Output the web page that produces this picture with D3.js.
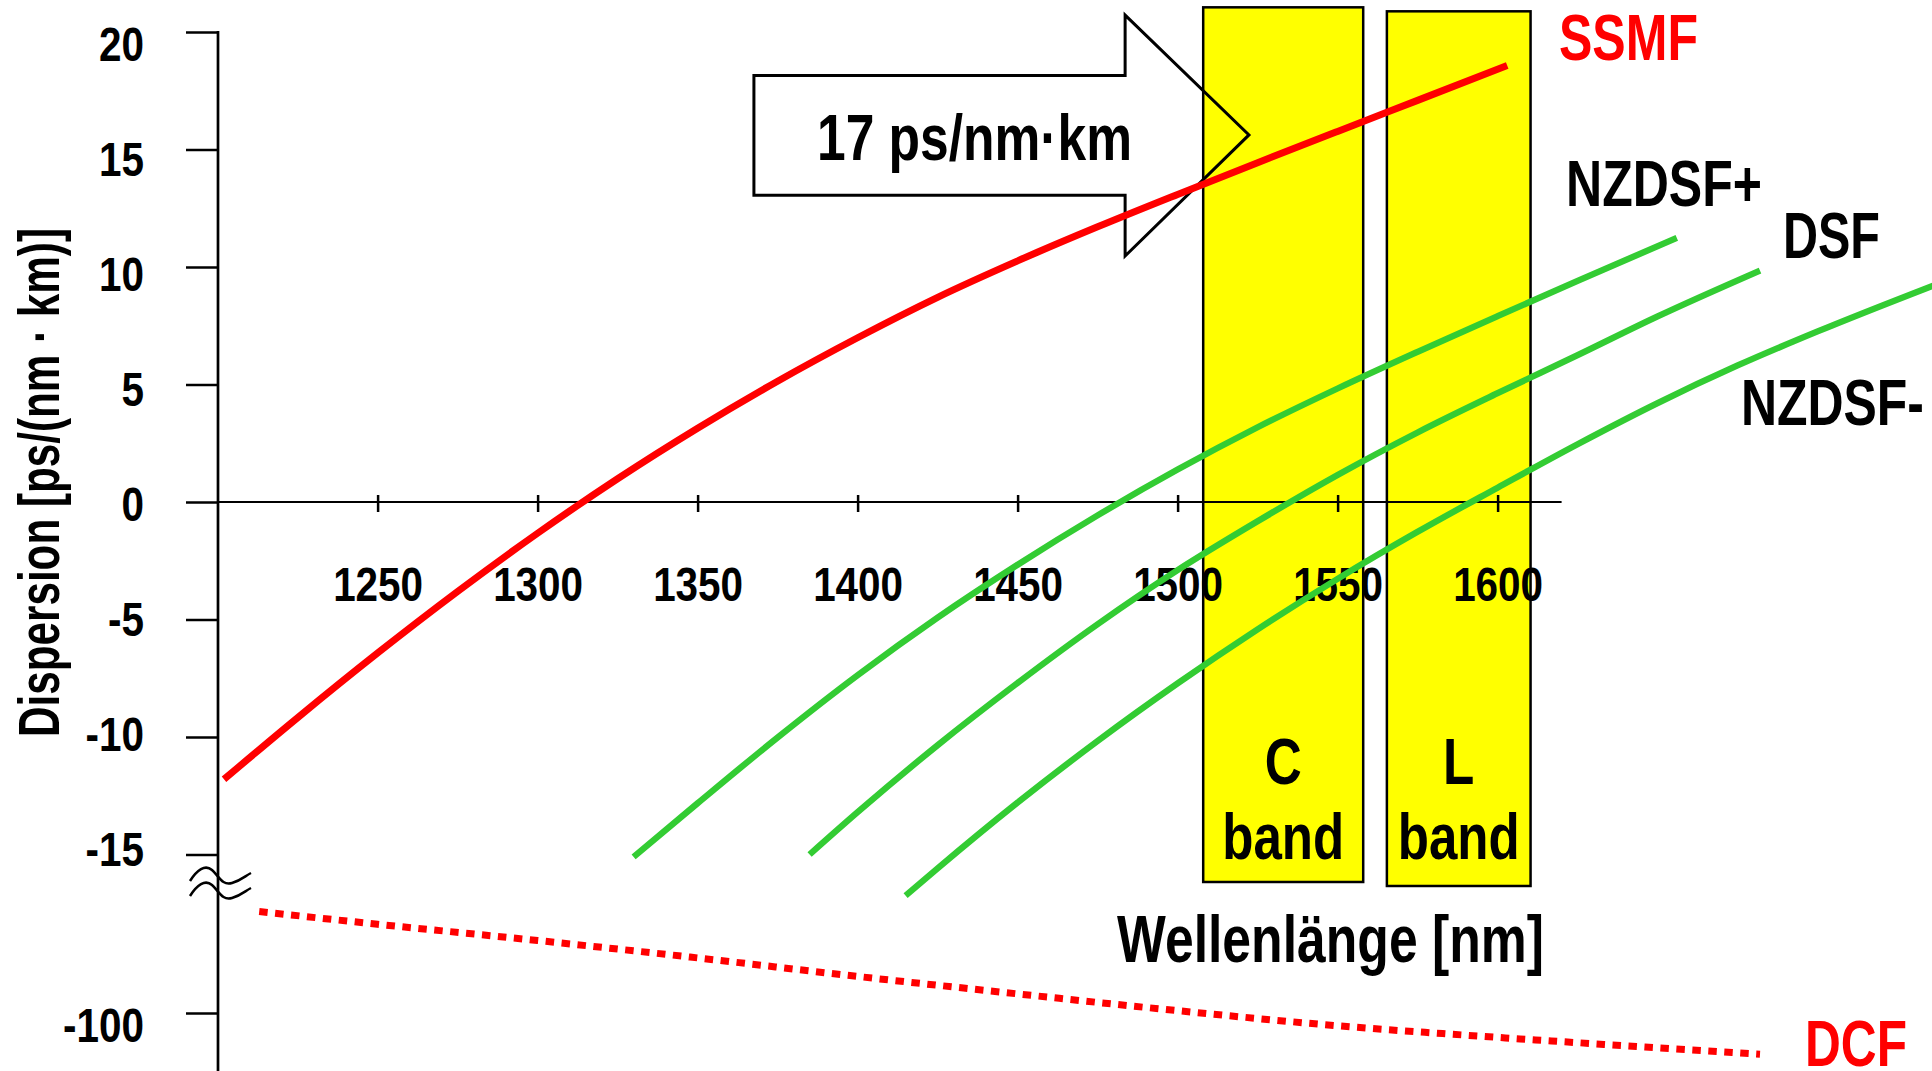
<!DOCTYPE html>
<html>
<head>
<meta charset="utf-8">
<script src="https://cdn.jsdelivr.net/npm/d3@7"></script>
<style>
  html, body { margin: 0; padding: 0; background: #fff; overflow: hidden; }
  svg { display: block; }
  text {
    font-family: "Liberation Sans", Arial, "DejaVu Sans", sans-serif;
    font-weight: bold;
  }
</style>
</head>
<body>
<svg id="chart" width="1932" height="1071"></svg>
<script>
// Axis tick values
const wavelengthTicks = [1250, 1300, 1350, 1400, 1450, 1500, 1550, 1600];
const dispersionTicks = [20, 15, 10, 5, 0, -5, -10, -15];
const dcfTicks = [-100];

// Standard single-mode fibre
const ssmfWavelength = [1202, 1225, 1250, 1275, 1300, 1325, 1350, 1375, 1400, 1425, 1450, 1475, 1500, 1525, 1550, 1575, 1603];
const ssmfDispersion = [-11.8, -9.18, -6.43, -3.81, -1.33, 0.99, 3.14, 5.14, 6.99, 8.71, 10.26, 11.71, 13.09, 14.44, 15.77, 17.09, 18.57];

// Non-zero dispersion-shifted fibre, positive
const nzdsfPlusWavelength = [1330, 1350, 1375, 1400, 1425, 1450, 1475, 1500, 1525, 1550, 1575, 1600, 1625, 1656];
const nzdsfPlusDispersion = [-15.1, -12.82, -10.02, -7.37, -4.92, -2.67, -0.57, 1.38, 3.18, 4.83, 6.39, 7.91, 9.41, 11.24];

// Dispersion-shifted fibre
const dsfWavelength = [1385, 1400, 1425, 1450, 1475, 1500, 1525, 1550, 1575, 1600, 1625, 1650, 1682];
const dsfDispersion = [-15.0, -13.2, -10.35, -7.7, -5.2, -2.9, -0.82, 1.15, 2.96, 4.63, 6.25, 7.9, 9.85];

// Non-zero dispersion-shifted fibre, negative
const nzdsfMinusWavelength = [1415, 1425, 1450, 1475, 1500, 1525, 1550, 1575, 1600, 1625, 1650, 1675, 1700, 1738];
const nzdsfMinusDispersion = [-16.75, -15.59, -12.79, -10.17, -7.72, -5.42, -3.27, -1.27, 0.61, 2.46, 4.21, 5.81, 7.26, 9.31];

// Dispersion-compensating fibre (lower, broken part of the axis)
const dcfWavelength = [1213, 1250, 1300, 1350, 1400, 1450, 1500, 1550, 1600, 1650, 1682];
const dcfDispersion = [-82.5, -84.7, -87.5, -90.5, -93.7, -96.7, -99.6, -102.2, -104.2, -106.0, -107.1];

// Transmission bands
const bandNames = ["C", "L"];
const bandStart = [1508, 1565.4];
const bandEnd = [1558, 1610.3];
const bandUpper = [21.05, 20.88];
const bandLower = [-16.17, -16.34];

const svg = d3.select("#chart");

const x = d3.scaleLinear().domain([1200, 1600]).range([217.6, 1497.6]);
const y = d3.scaleLinear().domain([-15, 20]).range([854.5, 32]);
const yLow = d3.scaleLinear().domain([-120, -80]).range([1129, 897]);
// tick labels sit on a slightly tighter spacing than the tick marks
const yLabel = d3.scaleLinear().domain([-15, 20]).range([848.5, 43.5]);

const zip = (a, b) => a.map((v, i) => [v, b[i]]);

// Condensed bold text: a regular bold face squeezed horizontally.
// With a target width the squeeze is computed from the measured text.
function label(parent, str, px, py, size, opts = {}) {
  const g = parent.append("g").attr("transform", `translate(${px},${py})`);
  const t = g.append("text")
    .attr("font-size", size)
    .attr("text-anchor", opts.anchor || "start")
    .attr("fill", opts.fill || "#000")
    .text(str);
  let sx = opts.squeeze || 0.78;
  if (opts.width) sx = opts.width / t.node().getComputedTextLength();
  t.attr("transform", `${opts.rotate ? `rotate(${opts.rotate}) ` : ""}scale(${sx},1)`);
  return g;
}

// ---- bands ----
const gBands = svg.append("g");
bandNames.forEach((name, i) => {
  gBands.append("rect")
    .attr("x", x(bandStart[i]))
    .attr("y", y(bandUpper[i]))
    .attr("width", x(bandEnd[i]) - x(bandStart[i]))
    .attr("height", y(bandLower[i]) - y(bandUpper[i]))
    .attr("fill", "#ffff00")
    .attr("stroke", "#000")
    .attr("stroke-width", 2.5);
});

// ---- 17 ps/nm·km arrow ----
const ax0 = x(1367.6), axHead = x(1483.6), axTip = x(1522.3);
const ayTop = y(18.15), ayBot = y(13.05), ayHeadTop = y(20.72), ayHeadBot = y(10.47), ayTip = y(15.62);
svg.append("path")
  .attr("d", `M${ax0},${ayTop} L${axHead},${ayTop} L${axHead},${ayHeadTop} L${axTip},${ayTip} L${axHead},${ayHeadBot} L${axHead},${ayBot} L${ax0},${ayBot} Z`)
  .attr("fill", "none")
  .attr("stroke", "#000")
  .attr("stroke-width", 3)
  .attr("stroke-linejoin", "miter");
label(svg, "17 ps/nm·km", 817, 160, 65, { width: 315 });

// ---- axes ----
const axisX = 218;
svg.append("line")
  .attr("x1", axisX).attr("x2", axisX)
  .attr("y1", y(20) - 1).attr("y2", 1071)
  .attr("stroke", "#000").attr("stroke-width", 2.7);
svg.append("line")
  .attr("x1", axisX).attr("x2", x(1620))
  .attr("y1", y(0)).attr("y2", y(0))
  .attr("stroke", "#000").attr("stroke-width", 2.2);

const tickFont = 49, tickSqueeze = 0.825;
const gy = svg.append("g")
  .attr("transform", `translate(${axisX},0)`)
  .call(d3.axisLeft(y).tickValues(dispersionTicks).tickSize(32).tickPadding(42).tickFormat(d => String(d)));
const gyLow = svg.append("g")
  .attr("transform", `translate(${axisX},0)`)
  .call(d3.axisLeft(yLow).tickValues(dcfTicks).tickSize(32).tickPadding(42).tickFormat(d => String(d)));
[gy, gyLow].forEach(g => {
  g.select(".domain").remove();
  g.attr("font-size", tickFont);
  g.selectAll(".tick line").attr("stroke", "#000").attr("stroke-width", 2.5);
});
gy.selectAll(".tick text")
  .attr("fill", "#000")
  .attr("x", 0)
  .attr("transform", d => `translate(-74,${yLabel(d) - y(d) + 1.8}) scale(${tickSqueeze},1)`);
gyLow.selectAll(".tick text")
  .attr("fill", "#000")
  .attr("x", 0)
  .attr("transform", `translate(-74,12.5) scale(${tickSqueeze},1)`);

const gx = svg.append("g")
  .attr("transform", `translate(0,${y(0)})`)
  .call(d3.axisBottom(x).tickValues(wavelengthTicks).tickSize(10).tickFormat(d => String(d)));
gx.select(".domain").remove();
gx.attr("font-size", tickFont);
gx.selectAll(".tick line").attr("y1", -7).attr("y2", 10).attr("stroke", "#000").attr("stroke-width", 2.5);
gx.selectAll(".tick text")
  .attr("fill", "#000")
  .attr("y", 0).attr("dy", 0)
  .attr("transform", `translate(0,99) scale(${tickSqueeze},1)`);

// axis break
const brk = svg.append("g").attr("fill", "none").attr("stroke", "#000").attr("stroke-width", 2.5);
[0, 15].forEach(off => {
  brk.append("path")
    .attr("d", `M190,${881 + off} C197,${870 + off} 205,${864 + off} 212,${870 + off} S222,${886 + off} 232,${883 + off} S245,${876 + off} 251,${873 + off}`);
});

// ---- curves ----
const lineUpper = d3.line().x(d => x(d[0])).y(d => y(d[1])).curve(d3.curveMonotoneX);
const lineLower = d3.line().x(d => x(d[0])).y(d => yLow(d[1])).curve(d3.curveMonotoneX);

const green = "#33cc33";
[[nzdsfPlusWavelength, nzdsfPlusDispersion], [dsfWavelength, dsfDispersion], [nzdsfMinusWavelength, nzdsfMinusDispersion]]
  .forEach(([w, d]) => {
    svg.append("path").attr("d", lineUpper(zip(w, d)))
      .attr("fill", "none").attr("stroke", green).attr("stroke-width", 6.3);
  });
svg.append("path").attr("d", lineUpper(zip(ssmfWavelength, ssmfDispersion)))
  .attr("fill", "none").attr("stroke", "#ff0000").attr("stroke-width", 7);
svg.append("path").attr("d", lineLower(zip(dcfWavelength, dcfDispersion)))
  .attr("fill", "none").attr("stroke", "#ff0000").attr("stroke-width", 7)
  .attr("stroke-dasharray", "8.5 7.5");

// ---- band labels ----
bandNames.forEach((name, i) => {
  const cx = x((bandStart[i] + bandEnd[i]) / 2);
  label(svg, name, cx, 784, 64, { anchor: "middle", squeeze: 0.8 });
  label(svg, "band", cx, 859, 64, { anchor: "middle", width: 122 });
});

// ---- curve names ----
label(svg, "SSMF", 1559, 60, 64, { fill: "#ff0000", width: 139 });
label(svg, "NZDSF+", 1566, 206, 64, { width: 196 });
label(svg, "DSF", 1783, 258, 64, { width: 97 });
label(svg, "NZDSF-", 1741, 425, 64, { squeeze: 0.78 });
label(svg, "DCF", 1805, 1066, 64, { fill: "#ff0000", width: 102 });

// ---- axis titles ----
label(svg, "Wellenlänge [nm]", 1330.5, 962, 66, { anchor: "middle", width: 427 });
label(svg, "Dispersion [ps/(nm · km)]", 59, 482.5, 58, { anchor: "middle", rotate: -90, width: 509 });
</script>
</body>
</html>
